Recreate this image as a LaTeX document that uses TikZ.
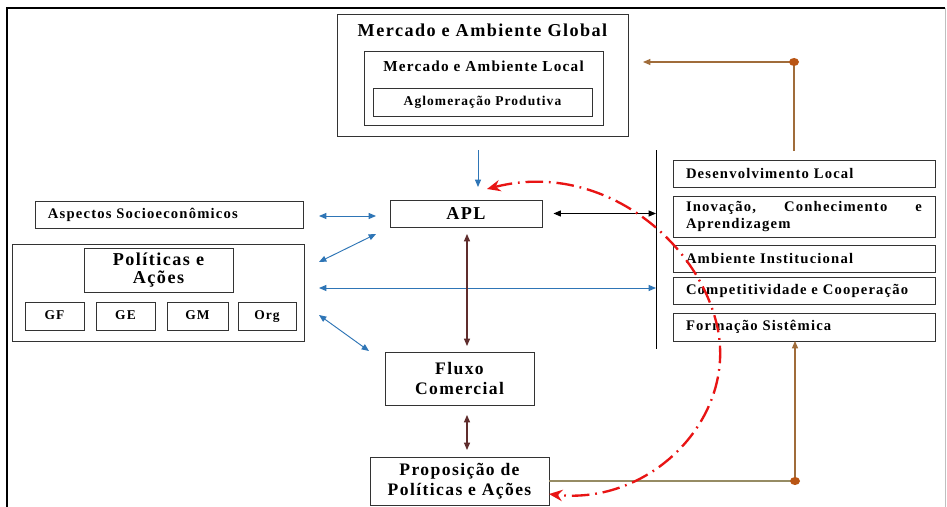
\documentclass[tikz,border=0pt]{standalone}
\usepackage{fontspec}
\setmainfont{Liberation Serif}[LetterSpace=8]
\usepackage{xcolor}
\usepackage{tikz}
\usetikzlibrary{arrows.meta}

\definecolor{arrblue}{RGB}{46,117,182}
\definecolor{arrbrown}{RGB}{160,108,58}
\definecolor{dotbrown}{RGB}{185,85,20}
\definecolor{lineolive}{RGB}{150,140,100}
\definecolor{arrmaroon}{RGB}{95,45,45}
\definecolor{arcred}{RGB}{232,20,20}

\begin{document}
\begin{tikzpicture}[x=0.03cm, y=-0.03cm,
  box/.style={draw=black!80, line width=0.8pt, inner sep=0pt,
    font=\bfseries\fontsize{12.5}{15}\selectfont},
  lbox/.style={box, align=left, text width=#1, inner xsep=0.39cm},
  sbox/.style={box, font=\bfseries\fontsize{11.5}{14}\selectfont,
    text height=0.66em, text depth=0pt, minimum height=0.84cm},
  big/.style={font=\bfseries\fontsize{15}{17.5}\selectfont, align=center},
  barr/.style={arrblue, line width=0.8pt, {Triangle[length=2.2mm, width=1.8mm]}-{Triangle[length=2.2mm, width=1.8mm]}}]
\path[fill=white] (0,0) rectangle (947,507);
\useasboundingbox (0,0) rectangle (947,507);
% ---- frame ----
\draw[line width=1.2pt] (7,507) -- (7,8) -- (945,8);
\draw[gray!50, line width=0.8pt] (945.5,8) -- (945.5,507);
% ---- markets ----
\node[box, minimum width=8.73cm, minimum height=3.66cm] (glob) at (482.5,75) {};
\node[font=\bfseries\fontsize{15.5}{18}\selectfont, inner sep=0pt] (globtit) at (482.5,30) {Mercado e Ambiente Global};
\node[box, minimum width=7.17cm, minimum height=2.22cm] (loc) at (483.5,88) {};
\node[font=\bfseries\fontsize{13}{15}\selectfont, inner sep=0pt] (loctit) at (483.5,66) {Mercado e Ambiente Local};
\node[box, minimum width=6.57cm, minimum height=0.84cm,
  font=\bfseries\fontsize{11.5}{14}\selectfont] (aglo) at (482.5,102) {Aglomeração Produtiva};
% ---- APL ----
\node[box, minimum width=4.56cm, minimum height=0.81cm,
  font=\bfseries\fontsize{15.5}{18}\selectfont] (apl) at (466,213.5) {APL};
% ---- left side ----
\node[lbox=7.26cm, minimum height=0.81cm] (asp) at (169,214.5) {Aspectos Socioeconômicos};
\node[box, minimum width=8.76cm, minimum height=2.91cm] (pol) at (158,292.5) {};
\node[box, big, minimum width=4.47cm, minimum height=1.32cm,
  font=\bfseries\fontsize{15.5}{15}\selectfont] (polt) at (158.5,270) {Políticas e\\Ações};
\node[sbox, minimum width=1.77cm] (gf) at (54.5,316) {GF};
\node[sbox, minimum width=1.77cm] (ge) at (125.5,316) {GE};
\node[sbox, minimum width=1.83cm] (gm) at (197.5,316) {GM};
\node[sbox, minimum width=1.74cm] (org) at (267,316) {Org};
% ---- centre column ----
\node[box, big, minimum width=4.47cm, minimum height=1.59cm] (fluxo) at (459.5,378.5) {Fluxo\\Comercial};
\node[box, big, minimum width=5.37cm, minimum height=1.44cm] (prop) at (459.5,481) {Proposição de\\Políticas e Ações};
% ---- right side ----
\node[lbox=7.08cm, minimum height=0.81cm] (dl) at (804,173.5) {Desenvolvimento Local};
\node[lbox=7.08cm, minimum height=1.23cm] (ino) at (804,216.5)
  {Inovação,\hspace{\fill}Conhecimento\hspace{\fill}e\\Aprendizagem};
\node[lbox=7.08cm, minimum height=0.81cm] (amb) at (804,258.5) {Ambiente Institucional};
\node[lbox=7.08cm, minimum height=0.81cm] (comp) at (804,290.5) {Competitividade e Cooperação};
\node[lbox=7.08cm, minimum height=0.84cm] (form) at (804,327) {Formação Sistêmica};
% ---- connector ends ----
\coordinate (vtop) at (656,150);
\coordinate (vbot) at (656,349);
\coordinate (vapl) at (656,213.5);
\coordinate (vpol) at (656,288);
\coordinate (d1) at (478,150);  \coordinate (d2) at (478,187);
\coordinate (a1) at (319,216);  \coordinate (a2) at (376,216);
\coordinate (b1) at (319,262);  \coordinate (b2) at (376,234);
\coordinate (c1) at (319,288);
\coordinate (e1) at (319,315);  \coordinate (e2) at (369,351);
\coordinate (m1) at (467,234);  \coordinate (m2) at (467,346);
\coordinate (m3) at (467,415);  \coordinate (m4) at (467,450);
\coordinate (tdot) at (794,62); \coordinate (tbot) at (794,151);
\coordinate (tend) at (643,62);
\coordinate (bdot) at (795,481); \coordinate (fs) at (795,341);
\coordinate (arcA) at (487,189); \coordinate (arcB) at (549,494);
% ---- connectors ----
\draw[line width=0.7pt] (vtop) -- (vbot);
\draw[line width=0.8pt, -{Triangle[length=2.2mm, width=1.8mm]}, arrblue] (d1) -- (d2);
\draw[barr] (a1) -- (a2);
\draw[barr] (b1) -- (b2);
\draw[barr] (c1) -- (vpol);
\draw[barr] (e1) -- (e2);
\draw[line width=0.8pt, {Triangle[length=2.2mm, width=1.8mm]}-{Triangle[length=2.2mm, width=1.8mm]},
  shorten <=0.33cm] (apl.east) -- (vapl);
\draw[arrmaroon, line width=0.9pt, {Triangle[length=2.2mm, width=1.8mm]}-{Triangle[length=2.2mm, width=1.8mm]}] (m1) -- (m2);
\draw[arrmaroon, line width=0.9pt, {Triangle[length=2.2mm, width=1.8mm]}-{Triangle[length=2.2mm, width=1.8mm]}] (m3) -- (m4);
\draw[arrbrown, line width=0.9pt, -{Triangle[length=2.2mm, width=1.8mm]}] (tbot) -- (tdot) -- (tend);
\fill[dotbrown] (tdot) ellipse [x radius=0.15cm, y radius=0.12cm];
\draw[lineolive, line width=0.9pt] (prop.east) -- (bdot);
\draw[arrbrown, line width=0.9pt, -{Triangle[length=2.2mm, width=1.8mm]}] (bdot) -- (fs);
\fill[dotbrown] (bdot) ellipse [x radius=0.15cm, y radius=0.12cm];
% ---- feedback arc ----
\draw[arcred, line width=2pt, dash pattern=on 15pt off 5pt on 1.5pt off 5pt,
  {Stealth[length=4mm, width=3.4mm]}-{Stealth[length=4mm, width=3.4mm]}]
  (arcA) .. controls (600,160) and (700,240) .. (718,330)
  .. controls (735,420) and (650,505) .. (arcB);
\end{tikzpicture}
\end{document}
